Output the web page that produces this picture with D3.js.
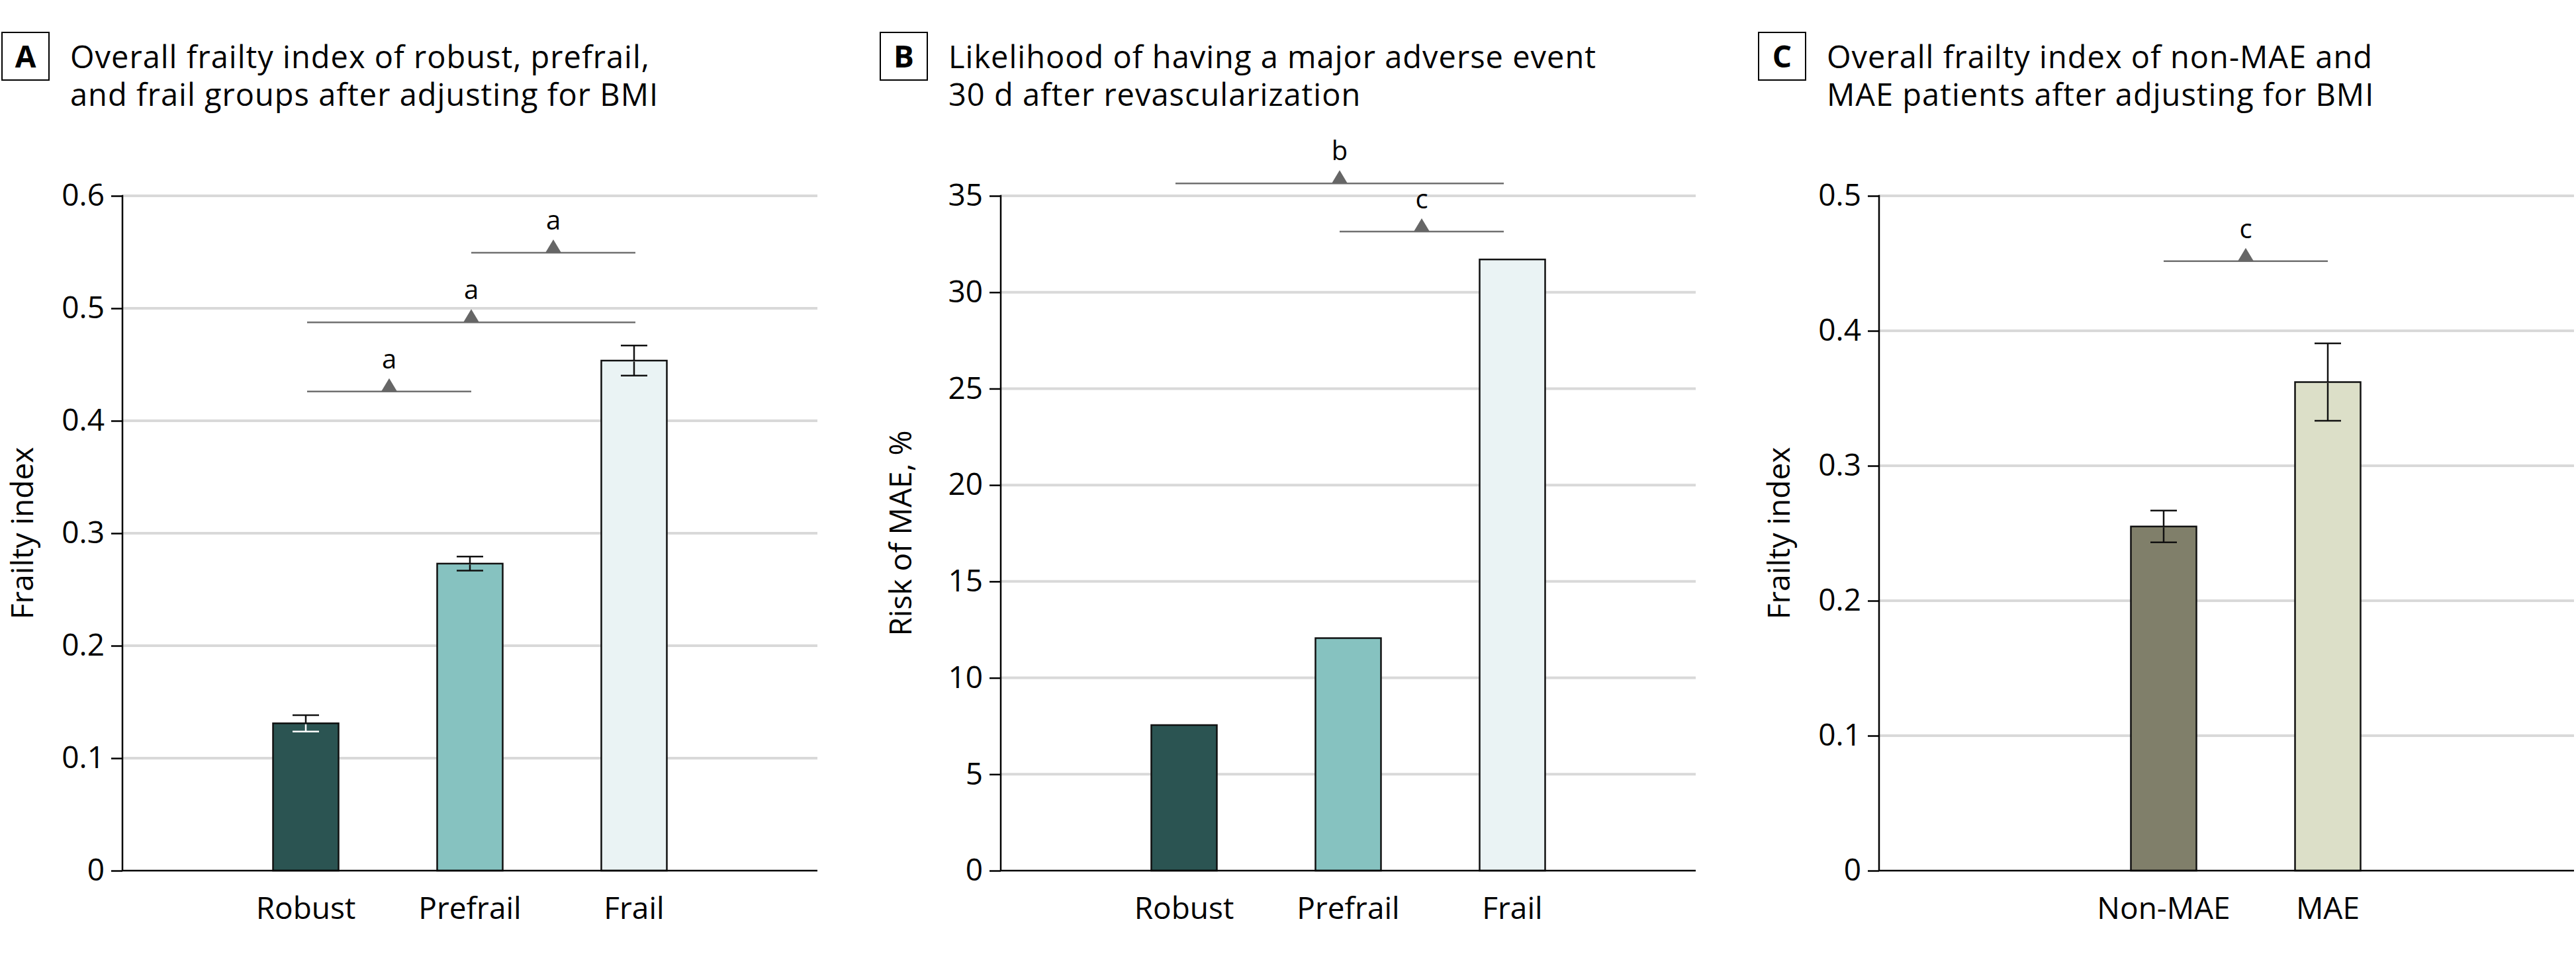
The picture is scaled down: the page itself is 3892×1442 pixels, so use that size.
<!DOCTYPE html>
<html>
<head>
<meta charset="utf-8">
<script src="https://cdn.jsdelivr.net/npm/d3@7"></script>
<style>
  html, body { margin: 0; padding: 0; background: #fff; }
  svg { display: block; }
  text { font-family: "Open Sans", "Noto Sans", sans-serif; fill: #000; }
</style>
</head>
<body>
<svg id="chart" width="3892" height="1442"></svg>
<script>
// ---------------- DATA ----------------
const groups = ["Robust", "Prefrail", "Frail"];
const frailtyMean = [0.131, 0.273, 0.4535];
const frailtyErr = [0.0073, 0.0063, 0.0134];
const maeRisk = [7.55, 12.06, 31.7];
const maeGroups = ["Non-MAE", "MAE"];
const maeFrailtyMean = [0.255, 0.362];
const maeFrailtyErr = [0.0118, 0.0287];

const ticksA = [0, 0.1, 0.2, 0.3, 0.4, 0.5, 0.6];
const ticksB = [0, 5, 10, 15, 20, 25, 30, 35];
const ticksC = [0, 0.1, 0.2, 0.3, 0.4, 0.5];

const sigA = [
  { from: "Robust", to: "Prefrail", y: 0.426, label: "a" },
  { from: "Robust", to: "Frail", y: 0.4875, label: "a" },
  { from: "Prefrail", to: "Frail", y: 0.5494, label: "a" }
];
const sigB = [
  { from: "Robust", to: "Frail", y: 35.64, label: "b" },
  { from: "Prefrail", to: "Frail", y: 33.15, label: "c" }
];
const sigC = [
  { from: "Non-MAE", to: "MAE", y: 0.4516, label: "c" }
];

const titleA = ["Overall frailty index of robust, prefrail,", "and frail groups after adjusting for BMI"];
const titleB = ["Likelihood of having a major adverse event", "30 d after revascularization"];
const titleC = ["Overall frailty index of non-MAE and", "MAE patients after adjusting for BMI"];

const fillsFrailty = ["#2b5452", "#86c2c0", "#eaf3f4"];
const fillsMae = ["#807f6a", "#dcdfc8"];

// ---------------- LAYOUT ----------------
const svg = d3.select("#chart");
const yTop = 296, yBot = 1316, plotW = 1050, barW = 99, step = 248;
const fontSize = 46;

function panel(cfg) {
  const g = svg.append("g");
  const ax = cfg.axisX;
  const y = d3.scaleLinear().domain([0, cfg.ymax]).range([yBot, yTop]);
  const x = d3.scalePoint().domain(cfg.cats)
    .range([ax + cfg.first, ax + cfg.first + step * (cfg.cats.length - 1)]);

  // gridlines
  g.append("g").selectAll("line").data(cfg.ticks.filter(t => t > 0)).join("line")
    .attr("x1", ax).attr("x2", ax + plotW)
    .attr("y1", d => y(d)).attr("y2", d => y(d))
    .attr("stroke", "#d9d9d9").attr("stroke-width", 4);

  // y axis
  const yAxis = d3.axisLeft(y).tickValues(cfg.ticks).tickSize(17).tickPadding(10)
    .tickFormat(cfg.fmt);
  const ya = g.append("g").attr("transform", `translate(${ax},0)`).call(yAxis);
  ya.select(".domain").remove();
  ya.selectAll(".tick line").attr("stroke", "#000").attr("stroke-width", 2.5);
  ya.selectAll(".tick text").attr("font-size", fontSize).attr("fill", "#000")
    .attr("font-family", "Open Sans");
  g.append("line").attr("x1", ax).attr("x2", ax).attr("y1", yTop - 1.25).attr("y2", yBot)
    .attr("stroke", "#000").attr("stroke-width", 2.5);

  // y axis title
  g.append("text")
    .attr("transform", `translate(${ax - 135},${(yTop + yBot) / 2}) rotate(-90)`)
    .attr("text-anchor", "middle").attr("font-size", fontSize)
    .text(cfg.ytitle);

  // bars
  const data = cfg.cats.map((c, i) => ({ c, v: cfg.vals[i], e: cfg.errs ? cfg.errs[i] : null, f: cfg.fills[i] }));
  g.append("g").selectAll("rect").data(data).join("rect")
    .attr("x", d => x(d.c) - barW / 2).attr("width", barW)
    .attr("y", d => y(d.v)).attr("height", d => yBot - y(d.v))
    .attr("fill", d => d.f).attr("stroke", "#111").attr("stroke-width", 2.5);

  // x axis
  g.append("line").attr("x1", ax).attr("x2", ax + plotW).attr("y1", yBot).attr("y2", yBot)
    .attr("stroke", "#000").attr("stroke-width", 2.5);
  g.append("g").selectAll("text").data(cfg.cats).join("text")
    .attr("x", d => x(d)).attr("y", yBot + 73)
    .attr("text-anchor", "middle").attr("font-size", fontSize).text(d => d);

  // error bars
  if (cfg.errs) {
    const eg = g.append("g");
    data.forEach(d => {
      const cx = x(d.c);
      const inner = d3.hsl(d.f).l < 0.3 ? "#fff" : "#111";
      eg.append("line").attr("x1", cx).attr("x2", cx).attr("y1", y(d.v)).attr("y2", y(d.v + d.e))
        .attr("stroke", "#111").attr("stroke-width", 2.5);
      eg.append("line").attr("x1", cx - 20).attr("x2", cx + 20).attr("y1", y(d.v + d.e)).attr("y2", y(d.v + d.e))
        .attr("stroke", "#111").attr("stroke-width", 2.5);
      eg.append("line").attr("x1", cx).attr("x2", cx).attr("y1", y(d.v) + 1.5).attr("y2", y(d.v - d.e))
        .attr("stroke", inner).attr("stroke-width", 2.5);
      eg.append("line").attr("x1", cx - 20).attr("x2", cx + 20).attr("y1", y(d.v - d.e)).attr("y2", y(d.v - d.e))
        .attr("stroke", inner).attr("stroke-width", 2.5);
    });
  }

  // significance brackets
  const sg = g.append("g");
  cfg.sig.forEach(s => {
    const x1 = x(s.from) + cfg.sigDx, x2 = x(s.to) + cfg.sigDx;
    const yy = y(s.y);
    const mx = (x1 + x2) / 2;
    sg.append("line").attr("x1", x1).attr("x2", x2).attr("y1", yy).attr("y2", yy)
      .attr("stroke", "#707070").attr("stroke-width", 2.5);
    sg.append("path").attr("d", `M${mx - 12},${yy} L${mx + 12},${yy} L${mx},${yy - 20} Z`)
      .attr("fill", "#666");
    sg.append("text").attr("x", mx).attr("y", yy - 35).attr("text-anchor", "middle")
      .attr("font-size", 40).text(s.label);
  });

  // title
  const bx = ax - 182;
  g.append("rect").attr("x", bx).attr("y", 49).attr("width", 71).attr("height", 72)
    .attr("fill", "#fff").attr("stroke", "#000").attr("stroke-width", 2);
  g.append("text").attr("x", bx + 35.5).attr("y", 102).attr("text-anchor", "middle")
    .attr("font-size", fontSize).attr("font-weight", "bold").text(cfg.letter);
  cfg.title.forEach((line, i) => {
    g.append("text").attr("x", ax - 79).attr("y", 103 + i * 57)
      .attr("font-size", 47).attr("letter-spacing", 1).text(line);
  });
}

panel({ letter: "A", title: titleA, axisX: 185, first: 277, cats: groups, vals: frailtyMean, errs: frailtyErr,
        fills: fillsFrailty, ymax: 0.6, ticks: ticksA, fmt: d => d === 0 ? "0" : d3.format(".1f")(d),
        ytitle: "Frailty index", sig: sigA, sigDx: 2 });
panel({ letter: "B", title: titleB, axisX: 1512, first: 277, cats: groups, vals: maeRisk, errs: null,
        fills: fillsFrailty, ymax: 35, ticks: ticksB, fmt: d3.format("d"),
        ytitle: "Risk of MAE, %", sig: sigB, sigDx: -13 });
panel({ letter: "C", title: titleC, axisX: 2839, first: 430, cats: maeGroups, vals: maeFrailtyMean, errs: maeFrailtyErr,
        fills: fillsMae, ymax: 0.5, ticks: ticksC, fmt: d => d === 0 ? "0" : d3.format(".1f")(d),
        ytitle: "Frailty index", sig: sigC, sigDx: 0 });
</script>
</body>
</html>
